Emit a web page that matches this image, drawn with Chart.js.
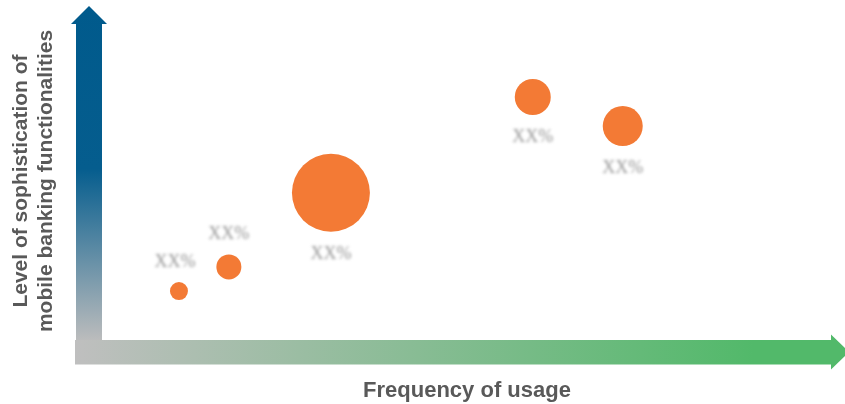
<!DOCTYPE html>
<html>
<head>
<meta charset="utf-8">
<title>Mobile banking usage vs sophistication</title>
<script src="https://cdn.jsdelivr.net/npm/chart.js@4/dist/chart.umd.min.js"></script>
<style>
    html, body { margin: 0; padding: 0; background: #ffffff; }
    #wrap { width: 845px; height: 404px; }
</style>
</head>
<body>
<div id="wrap"><canvas id="bubbleChart" width="845" height="404"></canvas></div>
<script>
// --- Data ---
const frequency = [1.19, 1.85, 3.2, 5.87, 7.06];        // x: frequency of usage (0-10)
const sophistication = [1.76, 2.46, 4.6, 7.37, 6.53];  // y: sophistication level (0-10)
const bubbleSize = [9, 12.5, 39, 18, 20];              // bubble radius
const shareLabels = ['XX%', 'XX%', 'XX%', 'XX%', 'XX%'];
const labelSide = ['above', 'above', 'below', 'below', 'below'];
const xTitle = 'Frequency of usage';
const yTitle = ['Level of sophistication of', 'mobile banking functionalities'];

const ORANGE = '#f37a35';
const TEXT = '#595959';

/**
 * Draws the two gradient arrows that act as axes, plus labels and titles.
 */
const arrowAxes = {
    id: 'arrowAxes',
    beforeDatasetsDraw(chart) {
        const { ctx, chartArea: a } = chart;
        const ox = a.left, oy = a.bottom;
        const half = 13, head = 18;

        ctx.save();
        // vertical arrow: blue at top fading to grey
        let g = ctx.createLinearGradient(0, a.top, 0, oy);
        g.addColorStop(0, '#005a8c');
        g.addColorStop(0.47, '#055d8e');
        g.addColorStop(0.97, '#bdbdbd');
        g.addColorStop(1, '#bdbdbd');
        ctx.fillStyle = g;
        ctx.beginPath();
        ctx.moveTo(ox, a.top);
        ctx.lineTo(ox + head, a.top + head);
        ctx.lineTo(ox + half, a.top + head);
        ctx.lineTo(ox + half, oy - 12);
        ctx.lineTo(ox - half, oy - 12);
        ctx.lineTo(ox - half, a.top + head);
        ctx.lineTo(ox - head, a.top + head);
        ctx.closePath();
        ctx.fill();

        // horizontal arrow: grey fading to green
        g = ctx.createLinearGradient(ox - half, 0, a.right, 0);
        g.addColorStop(0, '#bfbfbf');
        g.addColorStop(0.88, '#52b96a');
        g.addColorStop(1, '#52b96a');
        ctx.fillStyle = g;
        const tip = a.right + 4;
        ctx.beginPath();
        ctx.moveTo(ox - half - 1, oy - 12);
        ctx.lineTo(tip - head, oy - 12);
        ctx.lineTo(tip - head, oy - 17.5);
        ctx.lineTo(tip, oy);
        ctx.lineTo(tip - head, oy + 17.5);
        ctx.lineTo(tip - head, oy + 12.5);
        ctx.lineTo(ox - half - 1, oy + 12.5);
        ctx.closePath();
        ctx.fill();
        ctx.restore();
    },
    afterDatasetsDraw(chart) {
        const { ctx } = chart;
        const meta = chart.getDatasetMeta(0);

        // blurred placeholder labels
        ctx.save();
        ctx.filter = 'blur(1.6px)';
        ctx.fillStyle = 'rgba(120, 120, 120, 0.8)';
        ctx.font = '18px "Liberation Serif", serif';
        ctx.textAlign = 'center';
        ctx.textBaseline = 'middle';
        meta.data.forEach((pt, i) => {
            const above = labelSide[i] === 'above';
            const off = bubbleSize[i] + (above ? 20 : 22);
            const y = above ? pt.y - off : pt.y + off;
            ctx.fillText(shareLabels[i], pt.x + (i === 0 ? -4 : 0), y);
        });
        ctx.restore();

        // axis titles
        ctx.save();
        ctx.fillStyle = TEXT;
        ctx.textAlign = 'center';
        ctx.textBaseline = 'alphabetic';
        ctx.font = 'bold 22px "Liberation Sans", Arial, sans-serif';
        ctx.fillText(xTitle, 467, 397);
        ctx.font = 'bold 21px "Liberation Sans", Arial, sans-serif';
        ctx.translate(27, 181);
        ctx.rotate(-Math.PI / 2);
        yTitle.forEach((line, i) => ctx.fillText(line, 0, i * 25));
        ctx.restore();
    }
};

function initBubbleChart() {
    const ctx = document.getElementById('bubbleChart').getContext('2d');
    return new Chart(ctx, {
        type: 'bubble',
        data: {
            datasets: [{
                label: 'Banks',
                data: frequency.map((x, i) => ({ x: x, y: sophistication[i], r: bubbleSize[i] })),
                backgroundColor: ORANGE,
                borderWidth: 0,
                hoverRadius: 0,
                clip: false
            }]
        },
        options: {
            responsive: false,
            animation: false,
            devicePixelRatio: 1,
            layout: { autoPadding: false, padding: { left: 89, right: 0, top: 6, bottom: 52 } },
            plugins: { legend: { display: false }, tooltip: { enabled: false } },
            scales: {
                x: { type: 'linear', min: 0, max: 10, display: false },
                y: { type: 'linear', min: 0, max: 10, display: false }
            }
        },
        plugins: [arrowAxes]
    });
}

document.addEventListener('DOMContentLoaded', () => {
    try {
        initBubbleChart();
    } catch (error) {
        console.error('Error drawing chart:', error);
    }
});
</script>
</body>
</html>
